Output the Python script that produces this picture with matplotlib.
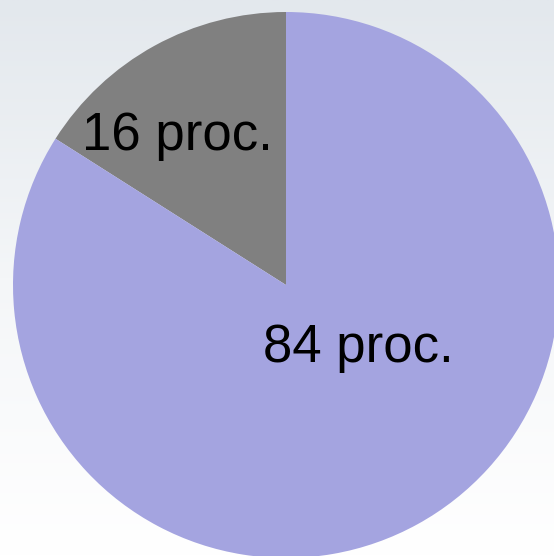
import matplotlib.pyplot as plt
import numpy as np
from matplotlib.colors import LinearSegmentedColormap

# dane
etykiety = ['16 proc.', '84 proc.']
wartosci = [16, 84]
kolory = ['#808080', '#A4A4E0']

plt.rcParams['font.family'] = ['Liberation Sans', 'DejaVu Sans']

fig = plt.figure(figsize=(5.54, 5.56), dpi=100)

# tlo z gradientem
tlo = fig.add_axes([0, 0, 1, 1])
tlo.axis('off')
cmap = LinearSegmentedColormap.from_list('tlo', ['#E3E8ED', '#F4F6F8', '#FFFFFF'])
grad = np.linspace(0, 1, 256).reshape(-1, 1)
tlo.imshow(grad, aspect='auto', cmap=cmap, extent=[0, 1, 0, 1], origin='upper')

ax = fig.add_axes([0, 0, 1, 1])
ax.patch.set_alpha(0)
ax.pie(wartosci, colors=kolory, startangle=90, counterclock=True,
       radius=1, wedgeprops=dict(linewidth=0))
ax.set_xlim(-286 / 273, (554 - 286) / 273)
ax.set_ylim(-271 / 273, 285 / 273)
ax.set_aspect('equal')
ax.axis('off')

# podpisy
ax.text(-0.396, 0.545, etykiety[0], fontsize=38, ha='center', va='center')
ax.text(0.264, -0.23, etykiety[1], fontsize=38, ha='center', va='center')

plt.savefig('out.png', dpi=100)
